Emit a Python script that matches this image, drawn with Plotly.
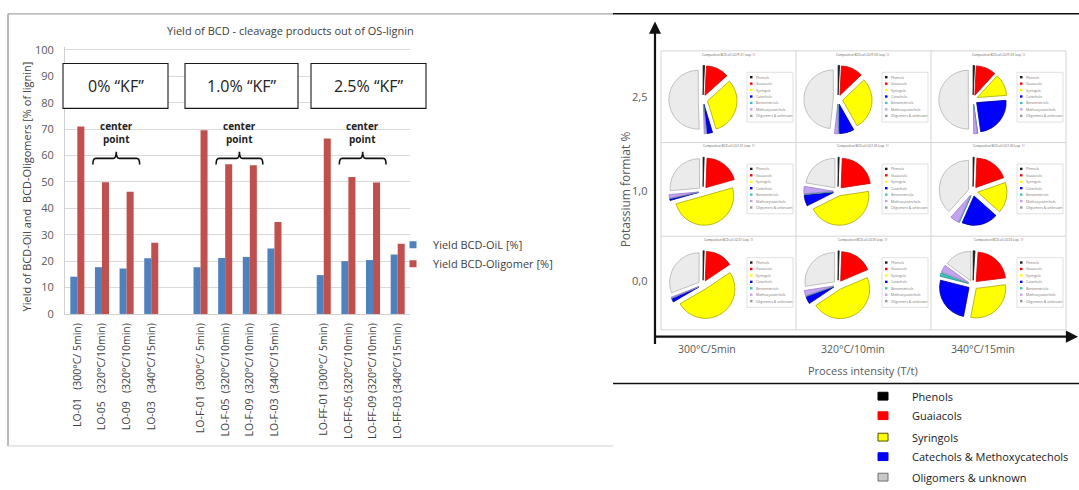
import plotly.graph_objects as go

W, H = 1079, 490
FONT = "Open Sans"

# ---------------- bar chart data ----------------
samples = ["LO-01", "LO-05", "LO-09", "LO-03",
           "LO-F-01", "LO-F-05", "LO-F-09", "LO-F-03",
           "LO-FF-01", "LO-FF-05", "LO-FF-09", "LO-FF-03"]
conditions = ["(300°C/ 5min)", "(320°C/10min)", "(320°C/10min)", "(340°C/15min)"] * 3
oil_yield = [14.1, 17.7, 17.2, 21.1, 17.7, 21.2, 21.6, 24.8, 14.7, 20.0, 20.4, 22.5]
oligomer_yield = [71.0, 49.9, 46.3, 27.0, 69.6, 56.7, 56.3, 34.8, 66.4, 51.9, 49.8, 26.6]
y_ticks = [0, 10, 20, 30, 40, 50, 60, 70, 80, 90, 100]
kf_groups = ["0% \u201cKF\u201d", "1.0% \u201cKF\u201d", "2.5% \u201cKF\u201d"]
center_pairs = [("LO-05", "LO-09"), ("LO-F-05", "LO-F-09"), ("LO-FF-05", "LO-FF-09")]
series_names = ["Yield BCD-OiL [%]", "Yield BCD-Oligomer [%]"]
series_colors = ["#4f81bd", "#c0504d"]

# ---------------- pie matrix data ----------------
pie_labels = ["Phenols", "Guaiacols", "Syringols", "Catechols",
              "Benzenetriols", "Methoxycatechols", "Oligomers & unknown"]
pie_colors = ["#1a1a1a", "#ff0000", "#ffff00", "#0000ff", "#3cc3bd", "#c4a3ee", "#ebebeb"]
pie_lines = ["#1a1a1a", "#d00000", "#a8a800", "#000090", "#2a8f8a", "#9a7cc8", "#b4b4b4"]
kf_levels = ["2,5", "1,0", "0,0"]
intensity_levels = ["300°C/5min", "320°C/10min", "340°C/15min"]
pie_samples = [["LO-FF-01", "LO-FF-05", "LO-FF-03"],
               ["LO-F-01", "LO-F-05", "LO-F-03"],
               ["LO-01", "LO-05", "LO-03"]]
pie_kf25_300 = [0.8, 12.5, 32, 3, 0, 1.2, 50.5]
pie_kf25_320 = [0.8, 12, 29, 8, 0, 2, 48.2]
pie_kf25_340 = [0.8, 11, 12, 24, 0, 2, 50.2]
pie_kf10_300 = [0.6, 20, 50, 1, 0, 2, 26.4]
pie_kf10_320 = [0.6, 22, 45, 6, 0, 4, 22.4]
pie_kf10_340 = [0.6, 19, 17, 20, 0, 5, 38.4]
pie_kf00_300 = [0.6, 15, 51, 2, 0, 0.6, 30.8]
pie_kf00_320 = [0.6, 18, 47, 4, 0, 3, 27.4]
pie_kf00_340 = [1, 22, 30, 26, 2, 4, 15]
pie_rows = [[pie_kf25_300, pie_kf25_320, pie_kf25_340],
            [pie_kf10_300, pie_kf10_320, pie_kf10_340],
            [pie_kf00_300, pie_kf00_320, pie_kf00_340]]

summary_labels = ["Phenols", "Guaiacols", "Syringols",
                  "Catechols & Methoxycatechols", "Oligomers & unknown"]
summary_fill = ["#000000", "#ff0000", "#ffff00", "#0000ff", "#c8c8c8"]
summary_line = ["#000000", "#ff0000", "#505000", "#0000ff", "#707070"]


def px(x):
    return x / W


def py(y):
    return 1 - y / H


def note(x, y, text, size, color, xanchor="center", **kw):
    """Text placed in pixel coordinates of the page."""
    return dict(x=px(x), y=py(y), xref="paper", yref="paper", text=text,
                showarrow=False, xanchor=xanchor, yanchor="middle",
                font=dict(family=FONT, size=size, color=color), **kw)


fig = go.Figure()

# ---------------- bar chart ----------------
cat_order = samples[0:4] + [" "] + samples[4:8] + ["  "] + samples[8:12]


def tick_label(name, cond):
    if name.startswith("LO-FF"):
        gap = "\u00a0"
    elif name.startswith("LO-F"):
        gap = "\u00a0\u00a0"
    else:
        gap = "\u00a0\u00a0\u00a0"
    return name + gap + cond


tick_text = []
for c in cat_order:
    if c.strip():
        tick_text.append(tick_label(c, conditions[samples.index(c)]))
    else:
        tick_text.append("")

for name, vals, col in zip(series_names, [oil_yield, oligomer_yield], series_colors):
    fig.add_trace(go.Bar(x=samples, y=vals, name=name, legendgroup=name, showlegend=False,
                         marker=dict(color=col, line=dict(width=0)),
                         xaxis="x", yaxis="y", hoverinfo="skip"))
# small square keys for the two series
for name, col in zip(series_names, series_colors):
    fig.add_trace(go.Scatter(x=[None], y=[None], mode="markers", name=name, legendgroup=name,
                             marker=dict(symbol="square", size=7, color=col),
                             xaxis="x", yaxis="y", hoverinfo="skip"))

shapes = []
annotations = []

# "center point" braces over the repeated centre-point runs
for a, b in center_pairs:
    i0, i1 = cat_order.index(a), cat_order.index(b)
    xc = (i0 + i1) / 2 + 0.08
    x0, x1 = xc - 0.95, xc + 0.95
    yb, ym, yt = 56.6, 58.9, 61.4
    path = (f"M {x0},{yb} Q {x0},{ym} {x0 + 0.12},{ym} L {xc - 0.12},{ym} "
            f"Q {xc},{ym} {xc},{yt} Q {xc},{ym} {xc + 0.12},{ym} "
            f"L {x1 - 0.12},{ym} Q {x1},{ym} {x1},{yb}")
    shapes.append(dict(type="path", path=path, xref="x", yref="y",
                       line=dict(color="#111111", width=1.6), layer="above"))
    for txt, yv in (("<b>center</b>", 71.3), ("<b>point</b>", 66.2)):
        annotations.append(dict(x=xc, y=yv, xref="x", yref="y", text=txt,
                                showarrow=False, xanchor="center", yanchor="middle",
                                font=dict(family=FONT, size=10, color="#222222")))

# KF level boxes
kf_boxes = [(63, 168), (185, 298), (311, 426)]
for (bx0, bx1), txt in zip(kf_boxes, kf_groups):
    shapes.append(dict(type="rect", xref="paper", yref="paper",
                       x0=px(bx0), x1=px(bx1), y0=py(106), y1=py(60),
                       line=dict(color="#1a1a1a", width=1.1), fillcolor="white", layer="above"))
    annotations.append(note((bx0 + bx1) / 2, 83, txt, 16, "#222222"))

annotations.append(note(290, 26, "Yield of BCD - cleavage products out of OS-lignin", 11, "#404040"))
annotations.append(note(26, 186, "Yield of BCD-Oil and\u00a0\u00a0BCD-Oligomers [% of lignin]",
                        11, "#404040", textangle=-90))

# frame around the bar chart
shapes += [
    dict(type="line", xref="paper", yref="paper", x0=px(8), x1=px(8), y0=py(9), y1=py(452),
         line=dict(color="#8c8c8c", width=1.2)),
    dict(type="line", xref="paper", yref="paper", x0=px(8), x1=px(613), y0=py(9), y1=py(9),
         line=dict(color="#a6a6a6", width=1.2)),
    dict(type="line", xref="paper", yref="paper", x0=px(8), x1=px(613), y0=py(452), y1=py(452),
         line=dict(color="#d0d0d0", width=1)),
]

# ---------------- pie matrix panel ----------------
shapes += [
    dict(type="line", xref="paper", yref="paper", x0=px(613), x1=px(1079), y0=py(9), y1=py(9),
         line=dict(color="#111111", width=1.5)),
    dict(type="line", xref="paper", yref="paper", x0=px(613), x1=px(1079), y0=py(388), y1=py(388),
         line=dict(color="#111111", width=1.5)),
]

col_x = [661, 796, 931, 1066]
row_y = [47, 141, 237, 333]
shapes.append(dict(type="rect", xref="paper", yref="paper",
                   x0=px(col_x[0]), x1=px(col_x[3]), y0=py(row_y[3]), y1=py(row_y[0]),
                   line=dict(color="#d4d4d4", width=1)))
for xv in col_x[1:3]:
    shapes.append(dict(type="line", xref="paper", yref="paper", x0=px(xv), x1=px(xv),
                       y0=py(row_y[3]), y1=py(row_y[0]), line=dict(color="#d4d4d4", width=1)))
for yv in row_y[1:3]:
    shapes.append(dict(type="line", xref="paper", yref="paper", x0=px(col_x[0]), x1=px(col_x[3]),
                       y0=py(yv), y1=py(yv), line=dict(color="#d4d4d4", width=1)))

for r in range(3):
    for c in range(3):
        cx0, cy0 = col_x[c], row_y[r]
        pcx, pcy, half = cx0 + 42, cy0 + 50, 35
        fig.add_trace(go.Pie(
            labels=pie_labels, values=pie_rows[r][c], sort=False, direction="clockwise",
            rotation=0, pull=[0.16] * len(pie_labels), textinfo="none", hoverinfo="skip",
            showlegend=False,
            marker=dict(colors=pie_colors, line=dict(color=pie_lines, width=0.8)),
            domain=dict(x=[px(pcx - half), px(pcx + half)], y=[py(pcy + half), py(pcy - half)]),
        ))
        annotations.append(note(cx0 + 67, cy0 + 4,
                                "Composition BCD-oil " + pie_samples[r][c] + " (exp. 1)",
                                3, "#555555"))
        lx0, ly0, lx1, ly1 = cx0 + 86, cy0 + 22, cx0 + 132, cy0 + 73
        shapes.append(dict(type="rect", xref="paper", yref="paper",
                           x0=px(lx0), x1=px(lx1), y0=py(ly1), y1=py(ly0),
                           line=dict(color="#d8d8d8", width=0.8), fillcolor="white"))
        for k, (lab, col) in enumerate(zip(pie_labels, pie_colors)):
            ey = ly0 + 5 + k * 6.6
            shapes.append(dict(type="rect", xref="paper", yref="paper",
                               x0=px(lx0 + 3), x1=px(lx0 + 5.5), y0=py(ey + 1.2), y1=py(ey - 1.2),
                               line=dict(width=0), fillcolor=col if col != "#ebebeb" else "#9a9a9a"))
            annotations.append(note(lx0 + 7, ey, lab, 3.5, "#777777", xanchor="left"))

# axes arrows
annotations.append(dict(x=px(655), y=py(17), xref="paper", yref="paper", text="",
                        showarrow=True, ax=0, ay=324, arrowhead=2, arrowsize=1.1,
                        arrowwidth=2.2, arrowcolor="#111111", standoff=0))
annotations.append(dict(x=px(1078), y=py(340), xref="paper", yref="paper", text="",
                        showarrow=True, ax=-424, ay=0, arrowhead=2, arrowsize=1.1,
                        arrowwidth=2.2, arrowcolor="#111111", standoff=0))

for lvl, yv in zip(kf_levels, [94, 190, 282]):
    annotations.append(note(649, yv, lvl, 11, "#595959", xanchor="right"))
for lvl, xv in zip(intensity_levels, [707, 853, 983]):
    annotations.append(note(xv, 353, lvl, 10.5, "#595959"))
annotations.append(note(863, 375, "Process intensity (T/t)", 11, "#595959"))
annotations.append(note(625, 189, "Potassium formiat %", 12, "#595959", textangle=-90))

# compound-class key
for k, (lab, fc, lc) in enumerate(zip(summary_labels, summary_fill, summary_line)):
    ey = [401, 421, 443, 463, 484][k]
    shapes.append(dict(type="rect", xref="paper", yref="paper",
                       x0=px(878), x1=px(888), y0=py(ey + 4), y1=py(ey - 4),
                       line=dict(color=lc, width=1), fillcolor=fc))
    annotations.append(note(910, ey, lab, 11, "#1a1a1a", xanchor="left"))

# y range runs one unit past 100 so that the top gridline and its label are kept
y0_px, y100_px = 316.7, 46.0
unit_px = (y0_px - y100_px) / 100
y_top = 101

fig.update_layout(
    width=W, height=H, autosize=False,
    margin=dict(l=0, r=0, t=0, b=0),
    paper_bgcolor="white", plot_bgcolor="white",
    barmode="group", bargap=0.43, bargroupgap=0,
    font=dict(family=FONT),
    xaxis=dict(domain=[px(65), px(410)], type="category", categoryorder="array",
               categoryarray=cat_order, tickvals=cat_order, ticktext=tick_text,
               tickangle=-90, tickfont=dict(family=FONT, size=10.5, color="#404040"),
               showline=True, linecolor="#d0d0d0", linewidth=1, showgrid=False,
               ticks="", ticklabelstandoff=4, anchor="y", fixedrange=True),
    yaxis=dict(domain=[py(y0_px), py(y0_px - unit_px * y_top)], range=[0, y_top],
               tickmode="array", tickvals=y_ticks,
               tickfont=dict(family=FONT, size=11, color="#595959"),
               showgrid=True, gridcolor="#d9d9d9", gridwidth=1,
               showline=True, linecolor="#d0d0d0", linewidth=1, zeroline=False,
               ticks="", ticklabelstandoff=8, anchor="x", fixedrange=True),
    legend=dict(x=px(393), y=py(231), xanchor="left", yanchor="top",
                font=dict(family=FONT, size=11, color="#404040"),
                bgcolor="rgba(0,0,0,0)", itemwidth=30, tracegroupgap=0),
    shapes=shapes,
    annotations=annotations,
)

fig.write_html("out.html")
